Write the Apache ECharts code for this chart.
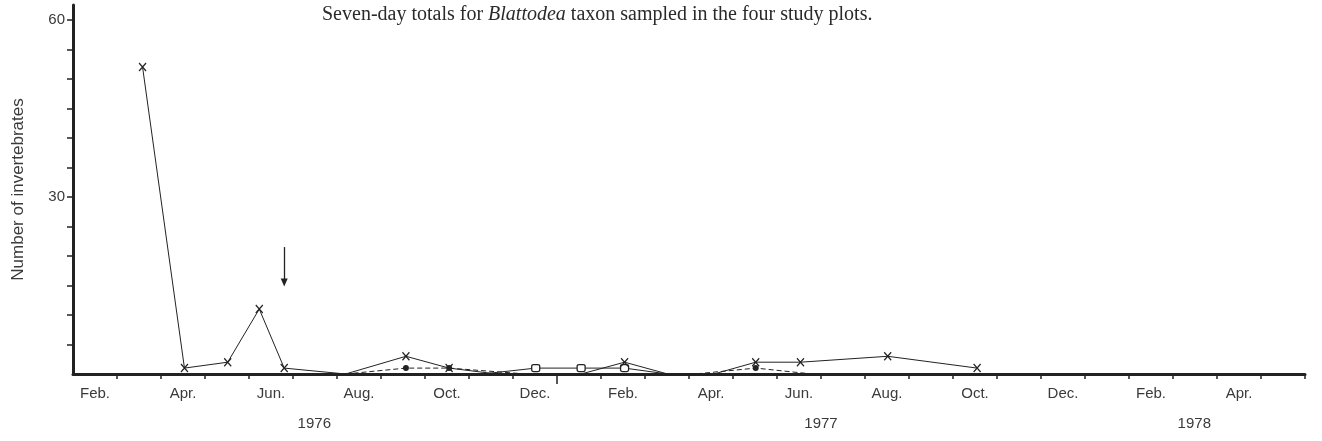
<!DOCTYPE html>
<html>
<head>
<meta charset="utf-8">
<script src="https://cdn.jsdelivr.net/npm/echarts@6/dist/echarts.min.js"></script>
<style>
  html, body { margin: 0; padding: 0; background: #fff; }
  #chart { width: 1322px; height: 441px; }
</style>
</head>
<body>
<div id="chart"></div>
<script>
// Seven-day totals of Blattodea, four study plots, 1976-1978
const plotADates  = ['1976-03-19','1976-04-17','1976-05-17','1976-06-08','1976-06-25','1976-08-07','1976-09-18','1976-10-18','1976-11-20','1977-01-18','1977-02-16','1977-03-17','1977-04-18','1977-05-17','1977-06-17','1977-08-17','1977-10-18'];
const plotACounts = [52, 1, 2, 11, 1, 0, 3, 1, 0, 0, 2, 0, 0, 2, 2, 3, 1];

const plotBDates  = ['1976-08-07','1976-09-18','1976-10-18','1976-12-10','1977-04-05','1977-05-17','1977-06-25'];
const plotBCounts = [0, 1, 1, 0, 0, 1, 0];

const plotCDates  = ['1976-11-10','1976-12-17','1977-01-18','1977-02-16','1977-03-17'];
const plotCCounts = [0, 1, 1, 1, 0];

// Axis text
const monthLabels = ['Feb.','Apr.','Jun.','Aug.','Oct.','Dec.','Feb.','Apr.','Jun.','Aug.','Oct.','Dec.','Feb.','Apr.'];
const yearLabels  = ['1976','1977','1978'];
const yLabels     = [30, 60];

// Arrow annotation: date, upper value, lower value
const arrowMark = ['1976-06-25', 21.5, 15.5];

const ink = '#222';
const textInk = '#3a3a3a';

// The time scale runs in months counted from 1 Feb 1976, each month the same width.
const START_YEAR = 1976, START_MONTH = 2, N_MONTHS = 28;
function monthPos(dateStr) {
  const [y, m, d] = dateStr.split('-').map(Number);
  const dim = new Date(Date.UTC(y, m, 0)).getUTCDate();
  return (y - START_YEAR) * 12 + (m - START_MONTH) + (d - 1) / dim;
}

const monthStarts = [];
for (let i = 1; i <= N_MONTHS; i++) monthStarts.push(i);
const labelPos = monthLabels.map((_, k) => 2 * k + 0.5);
const yearPos = [monthPos('1976-07-16'), monthPos('1977-07-01'), monthPos('1978-03-16')];
const yearTick = monthPos('1977-01-01');

function toPoints(dates, counts) {
  return dates.map((d, i) => {
    const p = [monthPos(d), counts[i]];
    return counts[i] === 0 ? { value: p, symbol: 'none' } : p;
  });
}

function nearestIndex(list, v) {
  for (let k = 0; k < list.length; k++) if (Math.abs(list[k] - v) < 1e-6) return k;
  return -1;
}

const sans = 'Liberation Sans';

const chart = echarts.init(document.getElementById('chart'), null, { renderer: 'canvas' });

chart.setOption({
  backgroundColor: '#fff',
  animation: false,
  title: {
    text: 'Seven-day totals for {i|Blattodea} taxon sampled in the four study plots.',
    left: 317,
    top: 0,
    textStyle: {
      fontFamily: 'Liberation Serif',
      fontSize: 20,
      fontWeight: 'normal',
      color: '#2a2a2a',
      rich: {
        i: { fontFamily: 'Liberation Serif', fontStyle: 'italic', fontSize: 20, color: '#2a2a2a' }
      }
    }
  },
  grid: { left: 73, right: 17, top: 5, bottom: 67, containLabel: false },
  xAxis: [
    {
      type: 'value',
      min: 0,
      max: N_MONTHS,
      interval: 1,
      position: 'bottom',
      axisLine: { onZero: false, lineStyle: { color: ink, width: 3 } },
      axisTick: { show: true, inside: false, length: 5, customValues: monthStarts, lineStyle: { color: ink, width: 1.5 } },
      axisLabel: {
        customValues: labelPos,
        margin: 12,
        fontFamily: sans,
        fontSize: 15,
        color: textInk,
        formatter: function (v) {
          const k = nearestIndex(labelPos, v);
          return k >= 0 ? monthLabels[k] : '';
        }
      },
      splitLine: { show: false }
    },
    {
      type: 'value',
      min: 0,
      max: N_MONTHS,
      interval: 1,
      position: 'bottom',
      offset: 0,
      axisLine: { show: false, onZero: false },
      axisTick: { show: true, length: 10, customValues: [yearTick], lineStyle: { color: ink, width: 1.5 } },
      axisLabel: {
        customValues: yearPos,
        margin: 42,
        fontFamily: sans,
        fontSize: 15,
        color: textInk,
        formatter: function (v) {
          const k = nearestIndex(yearPos, v);
          return k >= 0 ? yearLabels[k] : '';
        }
      },
      splitLine: { show: false }
    }
  ],
  yAxis: {
    type: 'value',
    min: 0,
    max: 62.5,
    name: 'Number of invertebrates',
    nameLocation: 'middle',
    nameGap: 46,
    nameRotate: 90,
    nameTextStyle: { fontFamily: sans, fontSize: 17, color: textInk },
    axisLine: { show: true, lineStyle: { color: ink, width: 3 } },
    axisTick: { show: true, length: 6, customValues: [5,10,15,20,25,30,35,40,45,50,55,60], lineStyle: { color: ink, width: 1.5 } },
    axisLabel: { customValues: yLabels, margin: 8, fontFamily: sans, fontSize: 15, color: textInk },
    splitLine: { show: false }
  },
  series: [
    {
      name: 'Plot C',
      type: 'line',
      data: toPoints(plotCDates, plotCCounts),
      symbol: 'roundRect',
      symbolSize: [8, 7],
      showAllSymbol: true,
      lineStyle: { color: ink, width: 1 },
      itemStyle: { color: '#fff', borderColor: ink, borderWidth: 1.2 },
      z: 3
    },
    {
      name: 'Plot B',
      type: 'line',
      data: toPoints(plotBDates, plotBCounts),
      symbol: 'circle',
      symbolSize: 6,
      showAllSymbol: true,
      lineStyle: { color: ink, width: 1, type: [5, 3] },
      itemStyle: { color: ink, borderColor: ink, borderWidth: 0 },
      z: 4
    },
    {
      name: 'Plot A',
      type: 'line',
      data: toPoints(plotADates, plotACounts),
      symbol: 'path://M0,0L10,12M10,0L0,12',
      symbolSize: [7, 8],
      showAllSymbol: true,
      lineStyle: { color: ink, width: 1 },
      itemStyle: { color: 'transparent', borderColor: ink, borderWidth: 1.3 },
      z: 5,
      markLine: {
        silent: true,
        symbol: ['none', 'triangle'],
        symbolSize: [7, 8],
        label: { show: false },
        lineStyle: { color: ink, width: 1.3, type: 'solid' },
        data: [[
          { coord: [monthPos(arrowMark[0]), arrowMark[1]] },
          { coord: [monthPos(arrowMark[0]), arrowMark[2]] }
        ]]
      }
    }
  ]
});
</script>
</body>
</html>
